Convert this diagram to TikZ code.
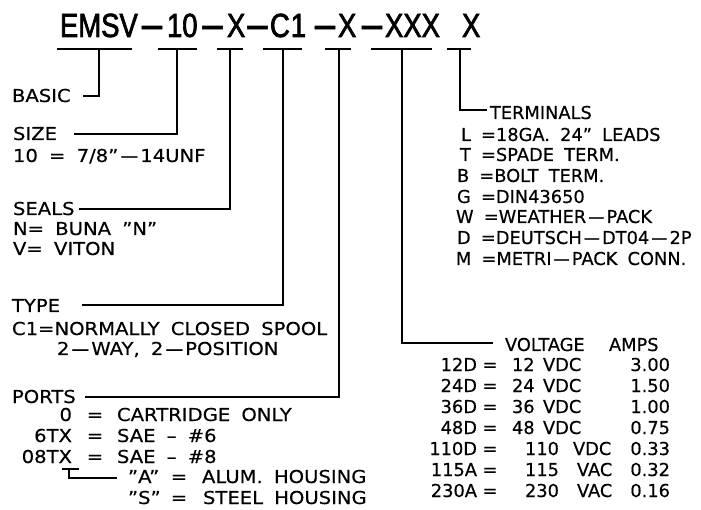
\documentclass[tikz,border=0pt]{standalone}
\usepackage{fontspec}
\usepackage{graphicx}
\setmainfont{DejaVu Sans}[WordSpace=1.8, FakeBold=0.4]
\newfontfamily\leftfont[FakeStretch=1.1, WordSpace=1.8, FakeBold=0.4]{DejaVu Sans}
\newfontfamily\titlefont[FakeStretch=0.82, FakeBold=2]{Liberation Sans}
\newfontfamily\dashfont[FakeStretch=0.45, FakeBold=1.5]{Liberation Sans}
\newcommand{\dd}{\kern0.12em\scalebox{0.9}[1]{—}\kern0.12em}
\tikzset{
  ln/.style={line width=1.7pt, line cap=rect},
  txt/.style={inner sep=0pt, outer sep=0pt, font=\fontsize{17.8}{20}\selectfont},
  ltxt/.style={inner sep=0pt, outer sep=0pt, font=\leftfont\fontsize{17.8}{20}\selectfont},
  ttl/.style={inner sep=0pt, outer sep=0pt, font=\titlefont\fontsize{33.5}{36}\selectfont, anchor=base west},
  tdash/.style={inner sep=0pt, outer sep=0pt, font=\dashfont\fontsize{45}{48}\selectfont, anchor=base},
}
\begin{document}
\begin{tikzpicture}[x=1pt,y=-1pt]
\useasboundingbox (0,0) rectangle (701,510);
% title
\node[ttl] (t1) at (60,37) {EMSV};
\node[tdash] (d1) at (152,39) {—};
\node[ttl] (t2) at (167,37) {10};
\node[tdash] (d2) at (212.5,39) {—};
\node[ttl] (t3) at (227,37) {X};
\node[tdash] (d3) at (257.5,39) {—};
\node[ttl] (t4) at (270,37) {C\kern1pt1};
\node[tdash] (d4) at (325,39) {—};
\node[ttl] (t5) at (338,37) {X};
\node[tdash] (d5) at (372,39) {—};
\node[ttl] (t6) at (385,37) {XXX};
\node[ttl] (t7) at (462,37) {X};
% bars and stems
\foreach \n/\a/\b/\s in {1/58/131/99, 2/159/196/177, 3/218/242/230, 4/264/301/283, 5/326/350/339, 6/372/431/402, 7/448/470/460} {
  \coordinate (bw\n) at (\a,49);
  \coordinate (be\n) at (\b,49);
  \coordinate (s\n) at (\s,49);
  \draw[ln] (bw\n) -- (be\n);
}
\coordinate (e1) at (84,96);
\coordinate (e2) at (75,134);
\coordinate (e3) at (80,209);
\coordinate (e4) at (83,305);
\coordinate (e5) at (86,397);
\coordinate (e6) at (492,343);
\coordinate (e7) at (486,110);
\foreach \n in {1,...,7} { \draw[ln] (s\n) |- (e\n); }
% left labels
\node[ltxt, anchor=base west] (basic) at (12,102) {BASIC};
\node[ltxt, anchor=base west] (size) at (13,140) {SIZE};
\node[ltxt, anchor=base west] (size1) at (13,162) {10 = 7/8”\dd14UNF};
\node[ltxt, anchor=base west] (seals) at (13,215) {SEALS};
\node[ltxt, anchor=base west] (seals1) at (13,235) {N= BUNA ”N”};
\node[ltxt, anchor=base west] (seals2) at (13,255) {V= VITON};
\node[ltxt, anchor=base west] (type) at (12,312) {TYPE};
\node[ltxt, anchor=base west] (type1) at (12,335) {C1=NORMALLY CLOSED SPOOL};
\node[ltxt, anchor=base west] (type2) at (57,355) {2\dd WAY, 2\dd POSITION};
\node[ltxt, anchor=base west] (ports) at (12,403) {PORTS};
\foreach \i/\c/\t in {0/0/CARTRIDGE ONLY, 1/6TX/SAE – \#6, 2/08TX/SAE – \#8} {
  \pgfmathsetmacro\yy{421+21*\i}
  \node[ltxt, anchor=base east] (pc\i) at (72,\yy) {\c};
  \node[ltxt, anchor=base] (pe\i) at (95,\yy) {=};
  \node[ltxt, anchor=base west] (pt\i) at (117,\yy) {\t};
}
\node[ltxt, anchor=base west] (ha) at (128,483) {”A”};
\node[ltxt, anchor=base] (hae) at (179,483) {=};
\node[ltxt, anchor=base west] (hat) at (202,483) {ALUM. HOUSING};
\node[ltxt, anchor=base west] (hs) at (128,504) {”S”};
\node[ltxt, anchor=base] (hse) at (179,504) {=};
\node[ltxt, anchor=base west] (hst) at (203,504) {STEEL HOUSING};
\coordinate (pbw) at (63,469);
\coordinate (pbe) at (78,469);
\coordinate (pbs) at (69,469);
\coordinate (pbt) at (116,478);
\draw[ln] (pbw) -- (pbe);
\draw[ln] (pbs) |- (pbt);
% terminals
\node[txt, anchor=base west] (term) at (490,119) {TERMINALS};
\node[txt, anchor=base west] (tl) at (461,141) {L =18GA. 24” LEADS};
\node[txt, anchor=base west] (tt) at (460,161) {T =SPADE TERM.};
\node[txt, anchor=base west] (tb) at (457,182) {B =BOLT TERM.};
\node[txt, anchor=base west] (tg) at (457,203) {G =DIN43650};
\node[txt, anchor=base west] (tw) at (456,223) {W =WEATHER\dd PACK};
\node[txt, anchor=base west] (td) at (457,244) {D =DEUTSCH\dd DT04\dd 2P};
\node[txt, anchor=base west] (tm) at (456,265) {M =METRI\dd PACK CONN.};
% voltage
\node[txt, anchor=base west] (volt) at (505,351) {VOLTAGE};
\node[txt, anchor=base west] (amps) at (609,351) {AMPS};
\foreach \i/\c/\v/\vx/\u/\ux/\a in {0/12D/12/512/VDC/543/3.00, 1/24D/24/512/VDC/543/1.50, 2/36D/36/512/VDC/543/1.00, 3/48D/48/512/VDC/543/0.75, 4/110D/110/525/VDC/573/0.33, 5/115A/115/525/VAC/577/0.32, 6/230A/230/525/VAC/577/0.16} {
  \pgfmathsetmacro\yy{371+21*\i}
  \node[txt, anchor=base east] (vc\i) at (477,\yy) {\c};
  \node[txt, anchor=base] (ve\i) at (490,\yy) {=};
  \node[txt, anchor=base west] (vv\i) at (\vx,\yy) {\v};
  \node[txt, anchor=base west] (vu\i) at (\ux,\yy) {\u};
  \node[txt, anchor=base east] (va\i) at (670,\yy) {\a};
}
\end{tikzpicture}
\end{document}
